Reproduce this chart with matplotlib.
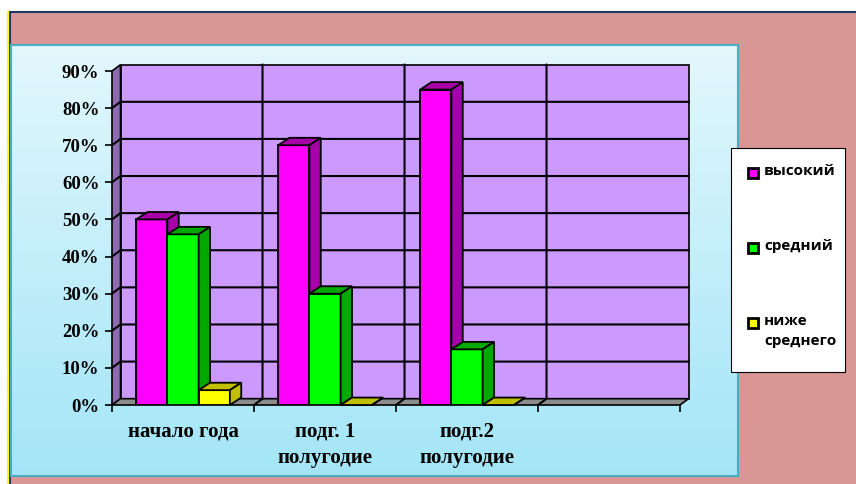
import numpy as np
import matplotlib.pyplot as plt
from matplotlib.patches import Polygon, Rectangle

# data (percent)
categories = ["начало года", "подг. 1\nполугодие", "подг.2\nполугодие", ""]
series = ["высокий", "средний", "ниже\nсреднего"]
high = [50, 70, 85]
mid = [46, 30, 15]
low = [4, 0, 0]
yticks = [0, 10, 20, 30, 40, 50, 60, 70, 80, 90]

front_cols = ["#FF00FF", "#00FF00", "#FFFF00"]
dark_cols = ["#A800A8", "#00A800", "#C0C000"]

W, H = 856, 484
fig = plt.figure(figsize=(W / 100, H / 100), dpi=100)
fig.patch.set_facecolor("white")

# background decoration in pixel coords
bg = fig.add_axes([0, 0, 1, 1])
bg.set_xlim(0, W)
bg.set_ylim(H, 0)
bg.axis("off")
bg.add_patch(Rectangle((10, 12), W - 10, H - 12, facecolor="#D99694", edgecolor="none"))
bg.plot([10, W], [12, 12], color="#1F3864", lw=1.5)
bg.plot([10, 10], [12, H], color="#1F3864", lw=1.5)
bg.plot([8, 8], [12, H], color="#FFFF00", lw=1.5)
grad = np.linspace(0, 1, 256).reshape(-1, 1)
top_c = np.array([0.89, 0.97, 0.99])
bot_c = np.array([0.64, 0.90, 0.97])
img = top_c + (bot_c - top_c) * grad[..., None]
bg.imshow(img, extent=(11, 738, 476, 45), aspect="auto", zorder=1)
bg.add_patch(Rectangle((11, 45), 727, 431, facecolor="none", edgecolor="#4BACC6", lw=1.5, zorder=2))

# legend box (manual, to match the tall layout)
bg.add_patch(Rectangle((731, 148), 114, 224, facecolor="white", edgecolor="black", lw=0.8, zorder=3))
leg_y = [173, 248, 323]
for name, c, yy in zip(series, front_cols, leg_y):
    bg.add_patch(Rectangle((748, yy - 5), 10, 10, facecolor=c, edgecolor="black", lw=2, zorder=4))
    bg.text(764, yy - 9, name, fontsize=11, fontweight="bold", family="Open Sans",
            va="top", ha="left", zorder=5, linespacing=1.5)

# main chart axes: front plane
ax = fig.add_axes([112 / W, (H - 405) / H, 568 / W, 334 / H])
ax.set_xlim(-0.5, 3.5)
ax.set_ylim(0, 90)
ax.patch.set_visible(False)
for s in ax.spines.values():
    s.set_visible(False)

dx, dy = 0.06, 1.7
bdx, bdy = 0.08, 2.0
x0, x1, ytop = -0.5, 3.5, 90

# walls
ax.add_patch(Polygon([(x0 + dx, dy), (x1 + dx, dy), (x1 + dx, ytop + dy), (x0 + dx, ytop + dy)],
                     closed=True, facecolor="#CC99FF", edgecolor="black", lw=1.2, zorder=1, clip_on=False))
ax.add_patch(Polygon([(x0, 0), (x0 + dx, dy), (x0 + dx, ytop + dy), (x0, ytop)],
                     closed=True, facecolor="#8C6BB1", edgecolor="black", lw=1.2, zorder=1, clip_on=False))
ax.add_patch(Polygon([(x0, 0), (x1, 0), (x1 + dx, dy), (x0 + dx, dy)],
                     closed=True, facecolor="#8C8C8C", edgecolor="black", lw=1.2, zorder=1, clip_on=False))

# gridlines
for v in yticks[1:-1]:
    ax.plot([x0, x0 + dx, x1 + dx], [v, v + dy, v + dy], color="black", lw=1.5, zorder=2, clip_on=False)
for b in [0.5, 1.5, 2.5]:
    ax.plot([b, b + dx, b + dx], [0, dy, ytop + dy], color="black", lw=1.5, zorder=2, clip_on=False)

# 3D-like bars
bw = 0.22
offsets = [-bw, 0, bw]
values = [high, mid, low]
z = 3
for i in range(len(high)):
    for k in range(3):
        h = values[k][i]
        xl = i + offsets[k] - bw / 2
        xr = xl + bw
        ax.bar(xl, h, width=bw, align="edge", color=front_cols[k], edgecolor="black",
               lw=1.3, zorder=z)
        ax.add_patch(Polygon([(xl, h), (xr, h), (xr + bdx, h + bdy), (xl + bdx, h + bdy)], closed=True,
                             facecolor=dark_cols[k], edgecolor="black", lw=1.3, zorder=z, clip_on=False))
        ax.add_patch(Polygon([(xr, 0), (xr + bdx, bdy), (xr + bdx, h + bdy), (xr, h)], closed=True,
                             facecolor=dark_cols[k], edgecolor="black", lw=1.3, zorder=z, clip_on=False))
        z += 1

# axes ticks and labels
ax.set_yticks(yticks)
ax.set_yticklabels([f"{v}%" for v in yticks], fontsize=13.5, fontweight="bold",
                   family="Liberation Serif")
ax.tick_params(axis="y", length=5, width=1.2, pad=4)
ax.set_xticks(range(len(categories)))
ax.set_xticklabels(categories, fontsize=15, fontweight="bold", family="Liberation Serif",
                   linespacing=1.4)
ax.tick_params(axis="x", length=0, pad=12)
ax.set_xticks([x0, 0.5, 1.5, 2.5, x1], minor=True)
ax.tick_params(axis="x", which="minor", length=5, width=1.2)

fig.savefig("out.png", dpi=100)
